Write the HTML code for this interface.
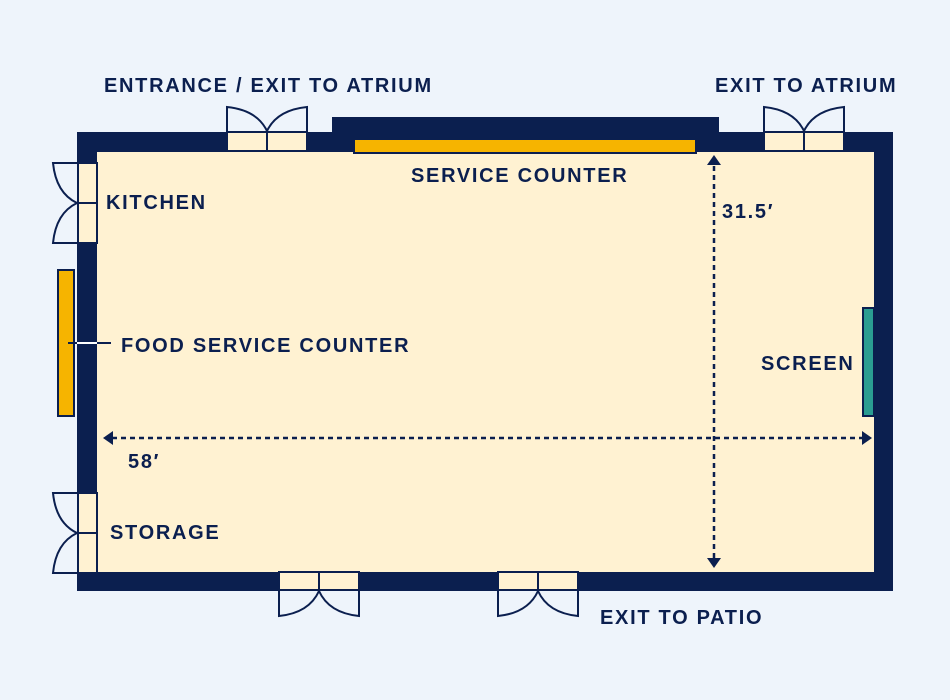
<!DOCTYPE html>
<html><head><meta charset="utf-8"><style>
html,body{margin:0;padding:0;background:#eef4fb}
svg{display:block}
text{font-family:"Liberation Sans",sans-serif;font-weight:bold;fill:#0b1f4f;font-size:20px;letter-spacing:1.7px}
</style></head><body>
<svg width="950" height="700" viewBox="0 0 950 700">
<rect width="950" height="700" fill="#eef4fb"/>
<rect x="332" y="117" width="387" height="20" fill="#0b1f4f"/>
<rect x="77" y="132" width="816" height="459" fill="#0b1f4f"/>
<rect x="97" y="152" width="777" height="420" fill="#fff2d2"/>
<g fill="#fff2d2" stroke="#0b1f4f" stroke-width="2">
<rect x="227" y="132" width="40" height="19"/><rect x="267" y="132" width="40" height="19"/>
<rect x="764" y="132" width="40" height="19"/><rect x="804" y="132" width="40" height="19"/>
<rect x="78" y="163" width="19" height="40"/><rect x="78" y="203" width="19" height="40"/>
<rect x="78" y="493" width="19" height="40"/><rect x="78" y="533" width="19" height="40"/>
<rect x="279" y="572" width="40" height="18"/><rect x="319" y="572" width="40" height="18"/>
<rect x="498" y="572" width="40" height="18"/><rect x="538" y="572" width="40" height="18"/>
</g>
<g fill="none" stroke="#0b1f4f" stroke-width="2">
<path d="M227 132V107Q257 110 267 131Q277 110 307 107V132"/>
<path d="M764 132V107Q794 110 804 131Q814 110 844 107V132"/>
<path d="M78 163H53Q56 193 77 203Q56 213 53 243H78"/>
<path d="M78 493H53Q56 523 77 533Q56 543 53 573H78"/>
<path d="M279 590V616Q309 613 319 591Q329 613 359 616V590"/>
<path d="M498 590V616Q528 613 538 591Q548 613 578 616V590"/>
</g>
<rect x="354" y="139" width="342" height="14" fill="#f6b400" stroke="#0b1f4f" stroke-width="2"/>
<rect x="58" y="270" width="16" height="146" fill="#f6b400" stroke="#0b1f4f" stroke-width="2"/>
<line x1="68" y1="343" x2="111" y2="343" stroke="#0b1f4f" stroke-width="2"/>
<line x1="77" y1="343" x2="97" y2="343" stroke="#fff" stroke-width="2"/>
<rect x="863" y="308" width="11" height="108" fill="#2a9d92" stroke="#0b1f4f" stroke-width="2"/>
<g stroke="#0b1f4f" stroke-width="2.5" stroke-dasharray="5,4">
<line x1="714" y1="166" x2="714" y2="560"/>
<line x1="112" y1="438" x2="862" y2="438"/>
</g>
<g fill="#0b1f4f">
<path d="M714 155L707 165H721Z"/><path d="M714 568L707 558H721Z"/>
<path d="M103 438L113 431V445Z"/><path d="M872 438L862 431V445Z"/>
</g>
<text x="104" y="92">ENTRANCE / EXIT TO ATRIUM</text>
<text x="715" y="92">EXIT TO ATRIUM</text>
<text x="411" y="182">SERVICE COUNTER</text>
<text x="106" y="209">KITCHEN</text>
<text x="722" y="218">31.5′</text>
<text x="121" y="352">FOOD SERVICE COUNTER</text>
<text x="761" y="370">SCREEN</text>
<text x="128" y="468">58′</text>
<text x="110" y="539">STORAGE</text>
<text x="600" y="624">EXIT TO PATIO</text>
</svg>
</body></html>
